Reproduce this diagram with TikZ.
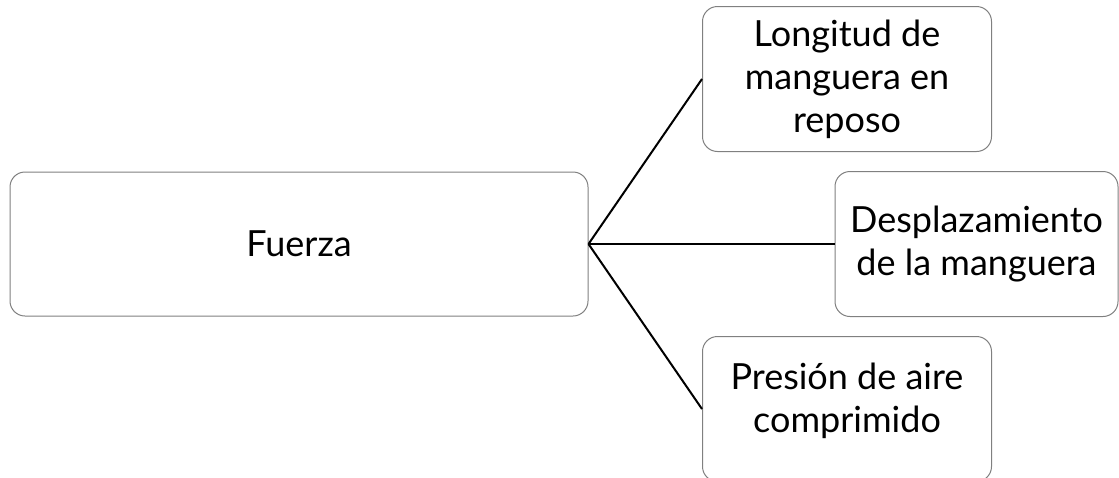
\documentclass[tikz,border=0pt]{standalone}
\usepackage{fontspec}
\setmainfont{Lato}
\begin{document}
\begin{tikzpicture}[x=1pt,y=-1pt,
  txt/.style={font=\fontsize{36}{43}\selectfont, align=center, inner sep=0pt},
  box/.style={txt, draw=black!50, line width=1pt, rounded corners=15pt, fill=white},
  link/.style={line width=2pt, black}]
\useasboundingbox (0,0) rectangle (1119,477);
\clip (0,0) rectangle (1119,477);
\node[box, minimum width=578pt, minimum height=144pt] (F) at (299,244) {Fuerza};
\node[box, minimum width=289pt, minimum height=145pt] (T) at (847,79) {Longitud de\\manguera en\\reposo};
\node[box, minimum width=283pt, minimum height=145pt] (M) at (976.5,244) {Desplazamiento\\de la manguera};
\node[box, minimum width=289pt, minimum height=145pt] (B) at (847,409) {};
\node[txt] (Bt) at (847,401) {Presión de aire\\comprimido};
\draw[link] (F.east) -- (T.west);
\draw[link] (F.east) -- (M.west);
\draw[link] (F.east) -- (B.west);
\end{tikzpicture}
\end{document}
